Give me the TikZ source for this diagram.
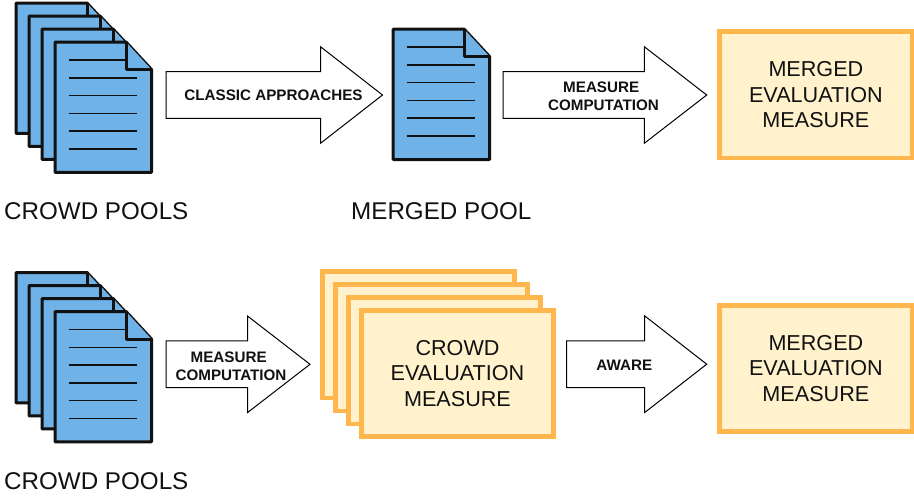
\documentclass[tikz,border=0pt]{standalone}
\usepackage{fontspec}
\setmainfont{Liberation Sans}
\definecolor{docblue}{HTML}{6FB2E8}
\definecolor{boxfill}{HTML}{FFF2CC}
\definecolor{boxline}{HTML}{FFB74D}
\definecolor{ink}{HTML}{111111}
\tikzset{
  docsheet/.style={draw=ink,fill=docblue,line width=3pt,line join=round},
  docrule/.style={draw=ink,line width=1.5pt},
  evalbox/.style={draw=boxline,fill=boxfill,line width=4.7pt,minimum width=192.4pt,minimum height=126.3pt,inner sep=0pt,outer sep=0pt,anchor=north west,align=center,font=\fontsize{21.6}{25.3}\selectfont,text=ink},
  flowarrow/.style={draw=black,fill=white,line width=1pt,line join=miter},
  flowlabel/.style={font=\fontsize{15.2}{17.8}\selectfont\bfseries,align=center,text=ink,inner sep=0pt},
  caption/.style={font=\fontsize{24.2}{27}\selectfont,text=ink,inner sep=0pt,anchor=west}
}
% sheet: top-left x, y
\newcommand{\docsheet}[2]{%
  \begin{scope}[shift={(#1,#2)}]
    \draw[docsheet] (0,0) -- (71,0) -- (96.5,27.5) -- (96.5,130.3) -- (0,130.3) -- cycle;
    \draw[docsheet] (71,0) -- (71,27.5) -- (96.5,27.5);
    \draw[docrule] (13.5,18) -- (71,18);
    \foreach \yy in {35.8,53.5,71.3,89,106.8}{\draw[docrule] (13.5,\yy) -- (81.5,\yy);}
  \end{scope}}
% block arrow: left, right, head-base x, centre y
\newcommand{\blockarrow}[4]{%
  \draw[flowarrow] (#1,#4-23.4) -- (#3,#4-23.4) -- (#3,#4-48.3) -- (#2,#4) -- (#3,#4+48.3) -- (#3,#4+23.4) -- (#1,#4+23.4) -- cycle;
  }
\begin{document}
\begin{tikzpicture}[x=1pt,y=-1pt]
\useasboundingbox[fill=white] (0,0) rectangle (914,496);
% top row
\docsheet{16}{3}\docsheet{29}{16}\docsheet{42}{29}\docsheet{55}{42}
\blockarrow{166}{382.5}{320.5}{95}
\node[flowlabel] (la1) at (273.5,95.5) {CLASSIC APPROACHES};
\docsheet{393.2}{29.2}
\blockarrow{503}{706.7}{644.3}{95}
\node[flowlabel] (la2) at (603.5,96.5) {MEASURE\hspace*{4.6pt}\\COMPUTATION};
\node[evalbox] (m1) at (719.7,31.7) {MERGED\\EVALUATION\\MEASURE};
\node[caption] (c1) at (4,211) {CROWD POOLS};
\node[caption] (c2) at (351,211) {MERGED POOL};
% bottom row
\docsheet{16}{272.5}\docsheet{29}{285.5}\docsheet{42}{298.5}\docsheet{55}{311.5}
\blockarrow{166}{310}{247.5}{364.3}
\node[flowlabel] (la3) at (231,366.5) {MEASURE\hspace*{4.6pt}\\COMPUTATION};
\node[evalbox] (s1) at (322.3,271.7) {};
\node[evalbox] (s2) at (335.3,284.7) {};
\node[evalbox] (s3) at (348.3,297.7) {};
\node[evalbox] (s4) at (361.3,310.3) {CROWD\\EVALUATION\\MEASURE};
\blockarrow{566.7}{706.7}{644.7}{364.2}
\node[flowlabel] (la4) at (624.3,365) {AWARE};
\node[evalbox] (m2) at (719.7,305.3) {MERGED\\EVALUATION\\MEASURE};
\node[caption] (c3) at (4,481) {CROWD POOLS};
\end{tikzpicture}
\end{document}
